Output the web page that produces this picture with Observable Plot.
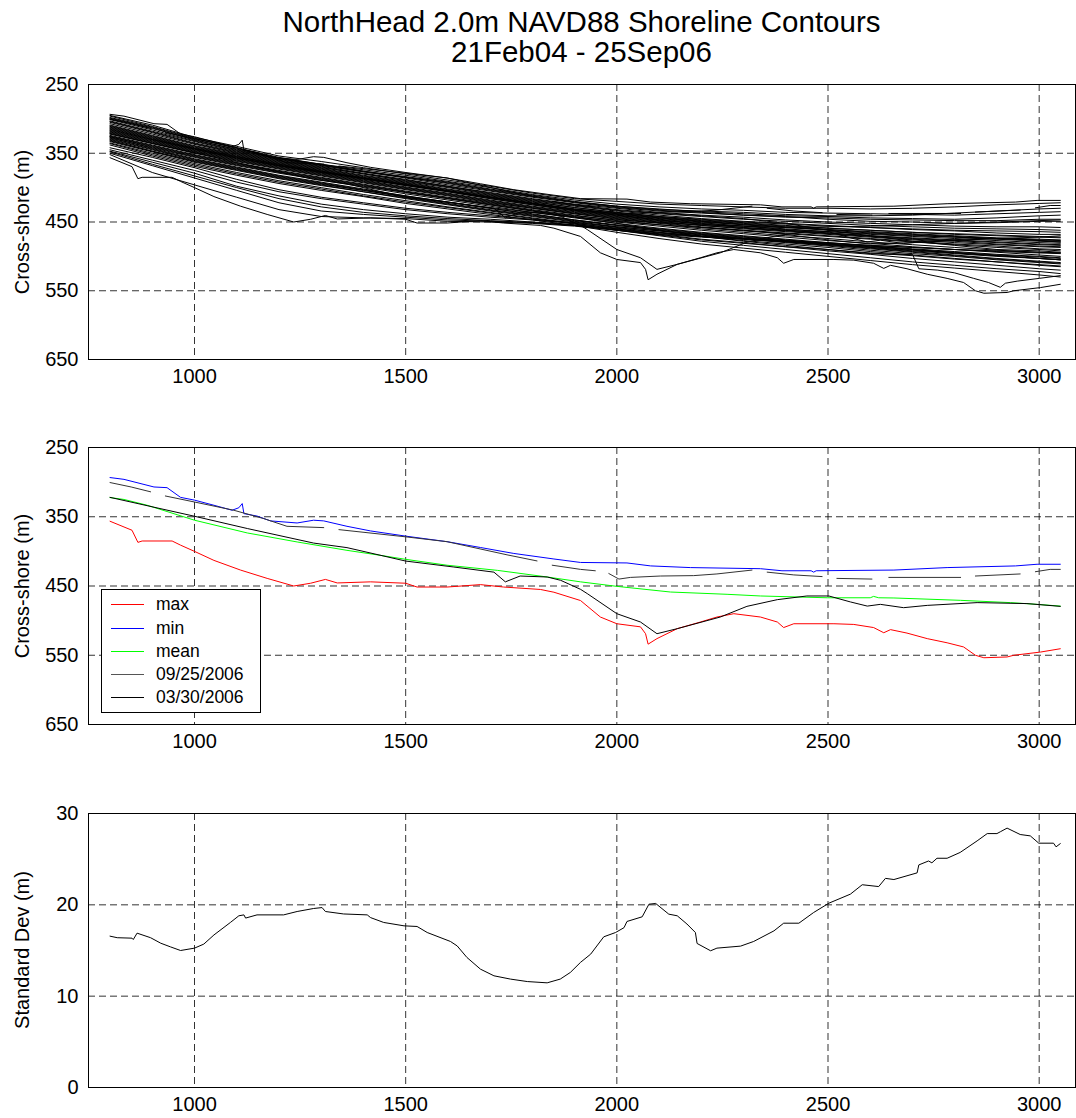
<!DOCTYPE html>
<html>
<head>
<meta charset="utf-8">
<script src="https://cdn.jsdelivr.net/npm/d3@7"></script>
<script src="https://cdn.jsdelivr.net/npm/@observablehq/plot@0.6"></script>
<style>
  body { margin: 0; background: #fff; font-family: "Liberation Sans", Arial, Helvetica, sans-serif; }
  #fig { position: relative; width: 1076px; height: 1118px; overflow: hidden; background: #fff; }
  .title { position: absolute; left: 88px; width: 987px; text-align: center; font-size: 29.5px; line-height: 30px; color: #000; white-space: nowrap; }
  .ylab { position: absolute; width: 300px; height: 24px; line-height: 24px; text-align: center; font-size: 20px; color: #000; transform: rotate(-90deg); white-space: nowrap; }
  .panel { position: absolute; left: 0; }
  .legend { position: absolute; border: 1px solid #000; background: #fff; box-sizing: border-box; }
  .lrow { position: absolute; left: 0; height: 22px; line-height: 22px; font-size: 17.5px; white-space: nowrap; }
  .lline { position: absolute; left: 9px; width: 33px; height: 0; }
  .ltext { position: absolute; left: 54px; top: 0; }
</style>
</head>
<body>
<div id="fig"></div>
<script>
// ---------------- DATA ----------------
const titleLines = ["NorthHead 2.0m NAVD88 Shoreline Contours", "21Feb04 - 25Sep06"];
const xTicks = [1000, 1500, 2000, 2500, 3000];
const posTicks = [250, 350, 450, 550, 650];
const stdTicks = [0, 10, 20, 30];
const yLabelPos = "Cross-shore (m)";
const yLabelStd = "Standard Dev (m)";

// survey anchor positions (alongshore)
const xAnchors = [800,900,1000,1100,1200,1300,1400,1500,1600,1700,1800,1900,2000,2100,2200,2300,2400,2500,2600,2700,2800,2900,3000,3050];

const upperSurveys = [
  [295,309,327,340,354,362,371,380,389,398,408,416,420,424,426,428,430,430,431,430,428,425,423,422],
  [298,312,329,342,356,366,374,382,391,400,410,418,424,428,431,433,436,437,438,439,440,438,436,435],
  [300,314,330,345,358,368,377,385,394,404,413,421,428,433,436,440,443,444,446,447,448,448,446,446],
  [303,318,333,347,359,369,379,388,398,407,416,424,430,436,440,443,447,450,452,454,456,457,457,458],
  [296,311,328,343,357,367,376,384,392,402,411,420,427,431,435,438,441,442,444,445,446,444,441,440],
  [305,320,336,349,361,371,380,390,399,409,418,426,433,438,442,446,449,452,455,457,459,460,461,462],
  [301,316,332,346,358,367,377,386,396,405,414,422,429,434,437,440,442,446,449,450,452,451,449,449],
  [307,322,337,350,362,372,382,391,400,410,419,427,434,440,445,449,452,455,458,461,463,466,468,468],
  [299,313,331,344,357,366,376,385,393,403,412,421,427,432,434,436,439,441,441,440,437,434,431,430],
  [310,325,340,352,364,374,384,393,403,412,421,429,436,442,447,451,455,459,462,465,468,470,472,473]
];
const coreSurveys = [
  [312,327,342,354,366,376,386,395,405,414,423,431,438,444,449,453,457,461,465,468,471,474,476,477],
  [315,330,344,356,368,378,388,397,406,416,425,433,440,446,451,456,460,464,468,471,474,477,480,481],
  [318,332,346,358,369,379,389,399,408,418,427,435,442,448,453,458,462,466,470,474,477,480,483,484],
  [314,329,343,355,367,377,387,396,405,414,423,432,439,445,450,454,458,462,466,469,472,474,477,478],
  [320,334,348,360,371,381,391,401,410,420,429,437,444,450,455,460,464,468,472,476,480,483,486,487],
  [317,331,345,357,368,378,387,397,406,416,425,434,441,447,452,456,461,464,467,470,472,475,478,479],
  [322,336,350,362,373,383,393,403,412,422,430,438,446,452,458,463,467,471,475,479,483,487,490,492],
  [311,326,341,353,365,375,385,394,404,413,422,431,437,443,448,452,456,459,462,465,467,469,471,472],
  [324,338,352,364,375,385,395,405,414,423,432,440,448,454,460,465,470,474,479,483,487,491,494,495],
  [316,330,344,357,368,377,386,396,405,415,424,433,440,447,453,458,462,466,470,473,476,479,482,483],
  [319,333,347,359,370,380,390,400,409,419,428,436,443,449,455,459,463,467,471,475,478,482,485,486],
  [313,328,343,355,366,376,386,395,405,414,423,432,438,444,449,454,458,461,464,467,470,473,475,476],
  [326,340,354,366,377,387,397,407,416,425,434,442,450,456,462,467,472,477,481,486,490,494,498,500],
  [321,335,349,361,372,382,392,402,411,421,430,438,445,451,457,462,466,470,474,478,482,485,489,490],
  [309,324,339,351,363,373,383,392,402,411,420,429,436,442,446,450,453,456,458,460,462,463,464,465],
  [328,342,356,368,379,389,399,409,418,427,436,444,452,459,465,470,475,480,485,490,495,499,503,505]
];
const crossingSurveys = [
  [304,319,335,348,360,370,380,389,398,408,417,425,432,437,441,445,452,462,470,478,484,490,492,494],
  [325,339,353,365,376,386,396,406,415,424,433,441,447,451,454,456,458,457,456,454,452,450,448,447],
  [332,347,361,373,385,395,404,413,421,429,436,443,449,454,458,462,468,476,482,480,477,474,472,470]
];
const lowerSurveys = [
  [330,345,360,372,384,394,404,414,423,432,440,448,455,462,468,474,479,484,489,494,499,504,508,510],
  [333,348,363,375,387,397,406,416,425,434,442,450,458,465,471,477,482,487,493,498,503,508,513,515],
  [327,343,358,370,382,392,402,412,421,430,438,447,454,460,466,471,476,481,485,489,493,497,500,502],
  [335,350,365,378,390,400,410,419,428,436,444,452,460,468,475,480,486,492,497,503,508,513,518,520],
  [331,347,362,374,386,396,406,415,424,433,441,449,457,463,469,475,480,485,491,496,500,505,509,511],
  [336,352,367,380,392,402,412,421,429,437,445,453,462,470,478,484,490,496,502,508,513,518,522,525],
  [329,344,359,371,383,393,403,412,421,430,439,447,455,461,467,472,477,482,487,491,495,499,503,505],
  [338,354,369,382,394,404,413,423,431,439,447,455,465,474,482,488,494,500,506,512,517,522,527,530]
];
const divergingSurveys = [
  [352,378,396,414,432,442,444,445,449,450,452,456,462,468,472,475,478,481,484,487,490,492,494,495],
  [350,368,386,404,422,434,439,443,447,449,451,455,461,467,471,474,477,480,484,487,490,493,495,496],
  [347,363,379,398,412,424,432,438,443,446,450,454,460,466,471,475,479,483,487,492,496,500,503,505],
  [345,360,375,392,406,416,424,432,438,443,447,452,459,465,470,474,478,482,486,490,494,498,501,503],
  [342,356,371,388,403,414,422,430,436,441,446,451,457,463,468,473,478,483,488,493,498,503,507,509],
  [348,366,383,400,416,428,436,441,445,448,451,455,462,469,476,481,486,490,495,499,504,508,512,514]
];
const jaggedX = [800,900,1000,1100,1200,1300,1400,1500,1600,1700,1800,1900,2000,2100,2200,2300,2400,2500,2600,2650,2700,2715,2760,2800,2845,2880,2908,2920,2948,3000,3050];
const jaggedY = [326,341,355,367,378,388,398,407,416,425,434,443,452,462,471,478,484,490,496,497,497,518,520,524,532,538,545,539,536,532,528];

// max / min / mean envelopes
const maxX = [800,852,866,876,947,967,1000,1046,1109,1172,1235,1275,1310,1338,1417,1500,1527,1598,1677,1732,1819,1851,1914,1961,2000,2056,2068,2074,2095,2143,2198,2237,2277,2340,2380,2395,2419,2514,2561,2608,2632,2648,2687,2735,2782,2821,2849,2869,2924,2940,3003,3050];
const maxY = [356.5,369.5,387,385,385,391,400,413,427,439,450,446,440.5,445.6,444,446,451.5,451.5,448,451.5,455,459,471,494.8,504.5,509,518.9,534,526,511.6,502,494.8,490,494.8,502,510,504.5,504.5,505.5,510,517.5,513,518,526,532,538,550,553.6,552.5,550,545.4,540.6];
const minX = [800,833,904,935,967,1000,1046,1089,1105,1113,1117,1148,1180,1243,1282,1306,1361,1417,1500,1598,1677,1756,1851,1914,2024,2080,2174,2340,2391,2460,2466,2472,2656,2782,2944,2995,3050];
const minY = [293.4,296,307,308,322,326,333.4,340.6,337,331,345.5,349,356,359,355,356,363.8,370.5,378,386,394.4,403,411,416,416.7,421,423.4,425,428,428,430,428,427,423.4,421,418.6,418.6];
const meanX = [800,833,888,1000,1125,1243,1361,1440,1500,1598,1717,1835,1914,2000,2127,2261,2340,2498,2600,2608,2620,2656,2814,2932,2995,3050];
const meanY = [322.3,325,333.4,355,373.4,386.4,398.5,405.7,411.5,420,427.4,437,444,450.5,458.7,462,464.4,467,467,465,467,467.3,470.7,474,476.5,479];

// two named surveys (null = gap in the record)
const sep06X = [800,850,896,913,931,999,1093,1164,1219,1306,1324,1342,1500,1598,1740,1811,1829,1847,1914,1949,1965,1981,2005,2032,2103,2182,2237,2320,2338,2356,2419,2486,2503,2521,2604,2624,2644,2814,2831,2849,2955,2973,2991,3026,3050];
const sep06Y = [300.6,307,314,null,320,328.6,340.6,352.7,363.8,365.7,null,368.6,379,386,405,413.8,null,420,426,428,null,432,440,437.6,435.6,435,432.6,427,null,430,434,436.4,null,439,440,null,437.6,437.6,null,435.6,432.6,null,429.4,426,426];
const mar06X = [800,1000,1125,1282,1361,1500,1614,1709,1736,1771,1835,1867,1914,1930,2000,2056,2095,2143,2245,2308,2380,2450,2502,2553,2593,2624,2679,2735,2853,2971,3050];
const mar06Y = [322,349.3,367,388,394.6,414,422.6,430,444,435.6,437,441.8,454.8,461,490,502,518.9,511.6,494.8,479.4,469.7,464.4,464.4,473,479,476.5,481.3,478,474,475.4,479.4];

// standard deviation
const stdX = [800,817,852,855,864,896,920,943,967,1000,1022,1046,1085,1105,1117,1121,1148,1211,1243,1282,1302,1310,1353,1409,1417,1448,1496,1527,1551,1606,1622,1645,1677,1709,1748,1788,1835,1866,1890,1914,1938,1969,1997,2017,2024,2060,2076,2092,2123,2143,2166,2186,2190,2222,2237,2293,2324,2372,2395,2431,2466,2502,2553,2581,2620,2636,2656,2711,2715,2738,2746,2758,2782,2813,2853,2877,2900,2908,2924,2955,2979,2999,3034,3040,3050];
const stdY = [16.57,16.4,16.35,16.2,16.9,16.4,15.8,15.4,15.0,15.26,15.7,16.7,18.07,18.8,18.9,18.55,18.9,18.9,19.27,19.6,19.7,19.27,19.0,18.9,18.6,18.07,17.7,17.63,16.97,15.99,15.5,14.24,12.96,12.23,11.87,11.6,11.46,11.87,12.6,13.7,14.6,16.5,16.97,17.5,18.18,18.69,20.07,20.15,18.98,18.8,17.9,16.97,15.77,14.97,15.26,15.48,15.99,17.15,17.99,17.99,19.16,20.18,21.17,22.2,22.0,22.9,22.77,23.5,24.37,24.8,24.6,25.1,25.1,25.74,27.0,27.8,27.8,28.0,28.4,27.7,27.55,26.75,26.75,26.35,26.7];

const legendLabels = ["max", "min", "mean", "09/25/2006", "03/30/2006"];
const legendColors = ["#ff0000", "#0000ff", "#00ff00", "#555555", "#000000"];

// ---------------- BUILD ----------------
const fontFam = '"Liberation Sans", Arial, Helvetica, sans-serif';
const xDomain = [749, 3086];

function rows(id, xs, ys) {
  const n = Math.min(xs.length, ys.length);
  const out = [];
  for (let i = 0; i < n; i++) out.push({id, x: xs[i], y: ys[i] == null ? NaN : ys[i]});
  return out;
}

function makePanel({height, marginTop, marginBottom, yDomain, reverse, yTicks, marks}) {
  const inner = yTicks.filter(t => t !== yDomain[0] && t !== yDomain[1]);
  return Plot.plot({
    width: 1076, height, marginLeft: 88, marginRight: 1, marginTop, marginBottom,
    style: {fontFamily: fontFam, fontSize: "20px", color: "#000", background: "transparent", overflow: "visible"},
    x: {domain: xDomain, ticks: xTicks, tickSize: 0, tickPadding: 9, tickFormat: d => String(d), label: null},
    y: {domain: yDomain, reverse, ticks: yTicks, tickSize: 0, tickPadding: 10, tickFormat: d => String(d), label: null},
    marks: [
      Plot.ruleX(xTicks, {x: d => d, stroke: "#000", strokeOpacity: 0.8, strokeDasharray: "7,4"}),
      Plot.ruleY(inner, {y: d => d, stroke: "#000", strokeOpacity: 0.8, strokeDasharray: "7,4"}),
      ...marks,
      Plot.frame({stroke: "#000", strokeWidth: 1})
    ]
  });
}

const fig = document.getElementById("fig");

// title
titleLines.forEach((t, i) => {
  const d = document.createElement("div");
  d.className = "title";
  d.style.top = (7 + i * 30) + "px";
  d.textContent = t;
  fig.appendChild(d);
});

// panel 1: all surveys
let p1 = [];
let k = 0;
for (const grp of [upperSurveys, coreSurveys, crossingSurveys, lowerSurveys, divergingSurveys]) {
  for (const s of grp) p1 = p1.concat(rows("s" + (k++), xAnchors, s));
}
p1 = p1.concat(rows("jag", jaggedX, jaggedY));
p1 = p1.concat(rows("maxS", maxX, maxY));
p1 = p1.concat(rows("minS", minX, minY));
p1 = p1.concat(rows("sep06", sep06X, sep06Y));
p1 = p1.concat(rows("mar06", mar06X, mar06Y));

const svg1 = makePanel({
  height: 330, marginTop: 14, marginBottom: 41, yDomain: [250, 650], reverse: true, yTicks: posTicks,
  marks: [Plot.line(p1, {x: "x", y: "y", z: "id", stroke: "#000", strokeWidth: 1})]
});

// panel 2
const svg2 = makePanel({
  height: 330, marginTop: 17, marginBottom: 36, yDomain: [250, 650], reverse: true, yTicks: posTicks,
  marks: [
    Plot.line(rows("max", maxX, maxY), {x: "x", y: "y", stroke: legendColors[0], strokeWidth: 1}),
    Plot.line(rows("min", minX, minY), {x: "x", y: "y", stroke: legendColors[1], strokeWidth: 1}),
    Plot.line(rows("mean", meanX, meanY), {x: "x", y: "y", stroke: legendColors[2], strokeWidth: 1}),
    Plot.line(rows("sep06", sep06X, sep06Y), {x: "x", y: "y", stroke: "#333", strokeWidth: 1}),
    Plot.line(rows("mar06", mar06X, mar06Y), {x: "x", y: "y", stroke: legendColors[4], strokeWidth: 1})
  ]
});

// panel 3
const svg3 = makePanel({
  height: 323, marginTop: 18, marginBottom: 31, yDomain: [0, 30], reverse: false, yTicks: stdTicks,
  marks: [Plot.line(rows("std", stdX, stdY), {x: "x", y: "y", stroke: "#000", strokeWidth: 1})]
});

[[svg1, 70], [svg2, 430], [svg3, 795]].forEach(([s, top]) => {
  const w = document.createElement("div");
  w.className = "panel";
  w.style.top = top + "px";
  w.appendChild(s);
  fig.appendChild(w);
});

// y labels
[[yLabelPos, 221.5], [yLabelPos, 585.6], [yLabelStd, 949.7]].forEach(([t, cy]) => {
  const d = document.createElement("div");
  d.className = "ylab";
  d.style.left = (22 - 150) + "px";
  d.style.top = (cy - 12) + "px";
  d.textContent = t;
  fig.appendChild(d);
});

// legend
const lg = document.createElement("div");
lg.className = "legend";
lg.style.left = "101px"; lg.style.top = "589px"; lg.style.width = "160px"; lg.style.height = "124px";
legendLabels.forEach((lab, i) => {
  const cy = 14.3 + i * 23.2;
  const r = document.createElement("div");
  r.className = "lrow";
  r.style.top = (cy - 11) + "px";
  r.style.width = "158px";
  const ln = document.createElement("div");
  ln.className = "lline";
  ln.style.top = "11px";
  ln.style.borderTop = "1px solid " + legendColors[i];
  const tx = document.createElement("div");
  tx.className = "ltext";
  tx.textContent = lab;
  r.appendChild(ln); r.appendChild(tx);
  lg.appendChild(r);
});
fig.appendChild(lg);
</script>
</body>
</html>
